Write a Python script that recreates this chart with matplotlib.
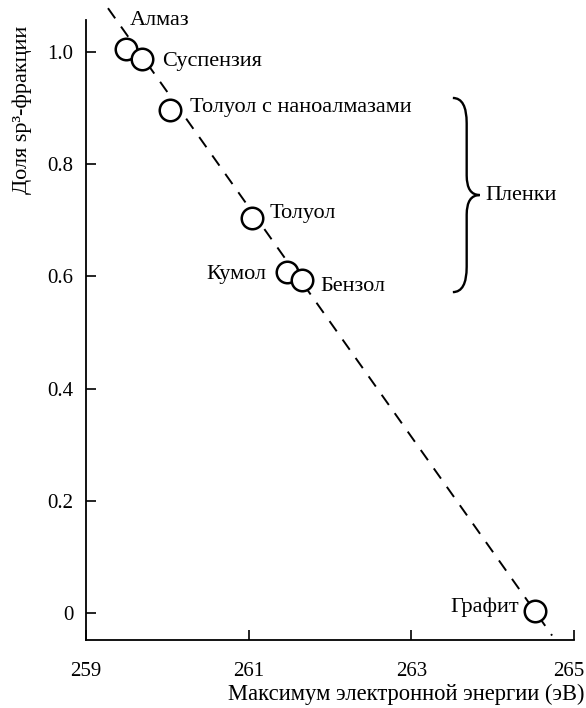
import numpy as np
import matplotlib.pyplot as plt
from matplotlib.path import Path
from matplotlib.patches import PathPatch
from matplotlib.transforms import ScaledTranslation


# Data
names = ["Алмаз", "Суспензия", "Толуол с наноалмазами", "Толуол",
         "Кумол", "Бензол", "Графит"]
energy = [259.49, 259.69, 260.03, 261.04, 261.47, 261.66, 264.52]
sp3 = [1.005, 0.988, 0.897, 0.704, 0.608, 0.594, 0.003]

# Dashed trend line end points
line_x = [259.27, 264.73]
line_y = [1.078, -0.040]

x_ticks = [259, 261, 263, 265]
y_ticks = [0, 0.2, 0.4, 0.6, 0.8, 1.0]
y_tick_labels = ["0", "0.2", "0.4", "0.6", "0.8", "1.0"]

# Label offsets (pixels) and alignment for each point
label_offsets = [(4, 29, "left"), (20, -3, "left"), (20, 2, "left"),
                 (18, 5, "left"), (-21, -3, "right"), (18, -7, "left"),
                 (-16, 4, "right")]

plt.rcParams['font.family'] = ['Liberation Serif', 'DejaVu Serif']
plt.rcParams['font.size'] = 16

fig = plt.figure(figsize=(5.86, 7.08), dpi=100)
ax = fig.add_axes([0.1468, 0.096, 0.8328, 0.8758])

# Trend line (runs past the top of the axes)
ax.plot(line_x, line_y, color='black', lw=1.4, dashes=[6.4, 5.2],
        clip_on=False, zorder=2)

# Data points
ax.plot(energy, sp3, 'o', ms=15.5, mfc='white', mec='black', mew=1.8,
        clip_on=False, zorder=3)

for name, x, y, (dx, dy, ha) in zip(names, energy, sp3, label_offsets):
    ax.annotate(name, (x, y), xytext=(dx, dy), textcoords='offset pixels',
                ha=ha, va='center', fontsize=16, annotation_clip=False)

# Curly brace for films
xl, xm, xt = 263.51, 263.68, 263.84
y0, y1, ym = 0.918, 0.572, 0.745
verts = [(xl, y0), (xm, y0), (xm, y0 - 0.045),
         (xm, ym + 0.035),
         (xm, ym), (xt, ym),
         (xm, ym), (xm, ym - 0.035),
         (xm, y1 + 0.045),
         (xm, y1), (xl, y1)]
codes = [Path.MOVETO, Path.CURVE3, Path.CURVE3,
         Path.LINETO,
         Path.CURVE3, Path.CURVE3,
         Path.CURVE3, Path.CURVE3,
         Path.LINETO,
         Path.CURVE3, Path.CURVE3]
ax.add_patch(PathPatch(Path(verts, codes), fill=False, lw=1.7,
                       edgecolor='black', clip_on=False))
ax.text(263.91, ym, "Пленки", ha='left', va='center', fontsize=16)

# Axes styling
ax.set_xlim(259, 265)
ax.set_ylim(-0.048, 1.057)
ax.set_xticks(x_ticks)
ax.set_yticks(y_ticks)
ax.set_yticklabels(y_tick_labels)
ax.tick_params(direction='in', length=7, width=1.2, labelsize=15)
ax.tick_params(axis='x', pad=16)
ax.tick_params(axis='y', pad=9)
ax.spines['top'].set_visible(False)
ax.spines['right'].set_visible(False)
ax.spines['left'].set_linewidth(1.3)
ax.spines['bottom'].set_linewidth(1.3)

# last x tick label sits a little left of its tick, as in the original
last = ax.get_xticklabels()[-1]
last.set_transform(last.get_transform() +
                   ScaledTranslation(-5 / 100, 0, fig.dpi_scale_trans))

ax.set_xlabel("Максимум электронной энергии (эВ)", fontsize=16.3)
ax.xaxis.set_label_coords(1.022, -0.087)
ax.xaxis.label.set_ha('right')
ax.xaxis.label.set_va('center')
ax.set_ylabel("Доля sp³-фракции", fontsize=16)
ax.yaxis.set_label_coords(-0.130, 0.855)
ax.yaxis.label.set_va('center')

plt.savefig("out.png", dpi=100, facecolor='white')
